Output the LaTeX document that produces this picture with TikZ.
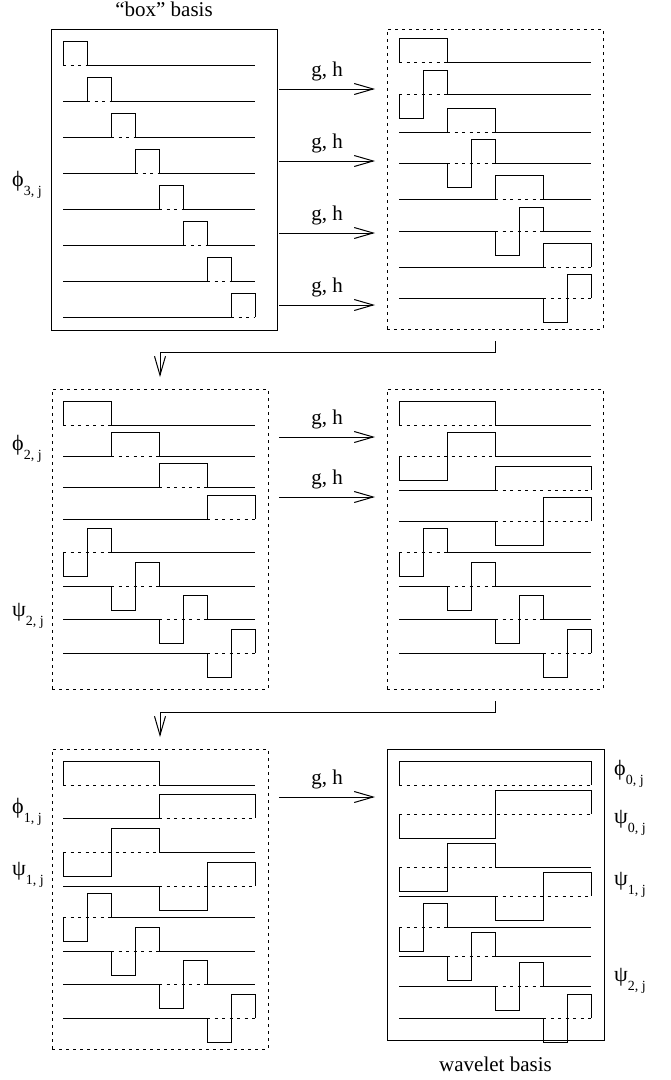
\documentclass[tikz,border=0pt]{standalone}
\usepackage{fontspec}
\setmainfont{Liberation Serif}
\usetikzlibrary{arrows.meta, positioning}

\tikzset{
  basisbox/.style={draw, line width=1pt, inner sep=0pt, outer sep=0pt},
  stagebox/.style={basisbox, dash pattern=on 3pt off 4pt},
  trace/.style={line width=1pt},
  zeroline/.style={line width=0.8pt, dash pattern=on 3pt off 4.5pt},
  conn/.style={line width=1pt, -{Straight Barb[length=19pt, width=11pt]}},
  caption/.style={font=\fontsize{21}{25}\selectfont, inner sep=0pt},
  ghlab/.style={font=\fontsize{21}{25}\selectfont, inner sep=0pt},
  coef/.style={font=\fontsize{22}{25}\selectfont, inner sep=0pt, anchor=base west},
}

% scaling function (box) on the intervals #3..#4, trace starts at #1, zero line at #2
\newcommand{\phibox}[4]{%
  \draw[trace] (#1,#2) -- ({#1+24*(#3)},#2) -- ++(0,-24) -- ({#1+24*(#4)},{#2-24})
    -- ++(0,24) -- ({#1+192},#2);
  \draw[zeroline] ({#1+24*(#3)},#2) -- ({#1+24*(#4)},#2);
}
% wavelet (down then up) on #3..#4
\newcommand{\psiwave}[4]{%
  \draw[trace] (#1,#2) -- ({#1+24*(#3)},#2) -- ++(0,24) -- ({#1+12*((#3)+(#4))},{#2+24})
    -- ++(0,-48) -- ({#1+24*(#4)},{#2-24}) -- ++(0,24) -- ({#1+192},#2);
  \draw[zeroline] ({#1+24*(#3)},#2) -- ({#1+24*(#4)},#2);
}
\newcommand{\wlab}[2]{#1\raisebox{-9pt}{\fontsize{14}{14}\selectfont #2}}

\begin{document}
\begin{tikzpicture}[x=1pt, y=-1pt]
  \useasboundingbox (0,0) rectangle (671,1080);

  % the six stages
  \node[basisbox, minimum width=226pt, minimum height=301pt] (box1) at (164,179.5) {};
  \node[stagebox, minimum width=216pt, minimum height=300pt] (box2) at (495,179) {};
  \node[stagebox, minimum width=216pt, minimum height=300pt] (box3) at (160,539) {};
  \node[stagebox, minimum width=216pt, minimum height=300pt] (box4) at (495,539) {};
  \node[stagebox, minimum width=216pt, minimum height=300pt] (box5) at (160,899) {};
  \node[basisbox, minimum width=217pt, minimum height=291pt] (box6) at (495.5,894.5) {};

  \node[caption, anchor=south, above=12pt of box1] (boxcap) {``box'' basis};
  \node[caption, anchor=north, below=17pt of box6] (wavcap) {wavelet basis};

  % box basis
  \foreach \k in {0,...,7}{ \phibox{63}{65+36*\k}{\k}{\k+1} }

  % level 2
  \foreach \b/\s/\e in {62/0/2, 132/2/4, 199/4/6, 267/6/8}{ \phibox{399}{\b}{\s}{\e} }
  \foreach \b/\s/\e in {94/0/2, 163/2/4, 231/4/6, 298/6/8}{ \psiwave{399}{\b}{\s}{\e} }

  \foreach \b/\s/\e in {425/0/2, 456/2/4, 487/4/6, 519/6/8}{ \phibox{63}{\b}{\s}{\e} }
  \foreach \b/\s/\e in {552/0/2, 586/2/4, 619/4/6, 653/6/8}{ \psiwave{63}{\b}{\s}{\e} }

  % level 1
  \foreach \b/\s/\e in {425/0/4, 490/4/8}{ \phibox{399}{\b}{\s}{\e} }
  \foreach \b/\s/\e in {456/0/4, 521/4/8, 552/0/2, 586/2/4, 619/4/6, 653/6/8}{ \psiwave{399}{\b}{\s}{\e} }

  \foreach \b/\s/\e in {785/0/4, 818/4/8}{ \phibox{63}{\b}{\s}{\e} }
  \foreach \b/\s/\e in {852/0/4, 886/4/8, 917/0/2, 951/2/4, 984/4/6, 1018/6/8}{ \psiwave{63}{\b}{\s}{\e} }

  % level 0
  \phibox{399}{785}{0}{8}
  \foreach \b/\s/\e in {814/0/8, 867/0/4, 896/4/8, 927/0/2, 956/2/4, 986/4/6, 1018/6/8}{ \psiwave{399}{\b}{\s}{\e} }

  % filter steps
  \foreach \y [count=\i] in {89,161,233,305,437,497,797}{
    \coordinate (fs\i) at (279,\y);
    \coordinate (ft\i) at (375,\y);
    \draw[conn] (fs\i) -- (ft\i) node[ghlab, midway, above=7pt] (gh\i) {g, h};
  }
  \draw[conn] ([yshift=-12pt]box2.south) -- ++(0,11) -| ([yshift=12pt]box3.north);
  \draw[conn] ([yshift=-12pt]box4.south) -- ++(0,11) -| ([yshift=12pt]box5.north);

  % coefficient names
  \node[coef] (l3phi) at (12,186) {\wlab{ϕ}{3, j}};
  \node[coef] (l2phi) at (12,450) {\wlab{ϕ}{2, j}};
  \node[coef] (l2psi) at (12,616) {\wlab{ψ}{2, j}};
  \node[coef] (l1phi) at (12,813) {\wlab{ϕ}{1, j}};
  \node[coef] (l1psi) at (12,875) {\wlab{ψ}{1, j}};
  \node[coef] (r0phi) at (614,775) {\wlab{ϕ}{0, j}};
  \node[coef] (r0psi) at (614,823) {\wlab{ψ}{0, j}};
  \node[coef] (r1psi) at (614,885) {\wlab{ψ}{1, j}};
  \node[coef] (r2psi) at (614,981) {\wlab{ψ}{2, j}};
\end{tikzpicture}
\end{document}
